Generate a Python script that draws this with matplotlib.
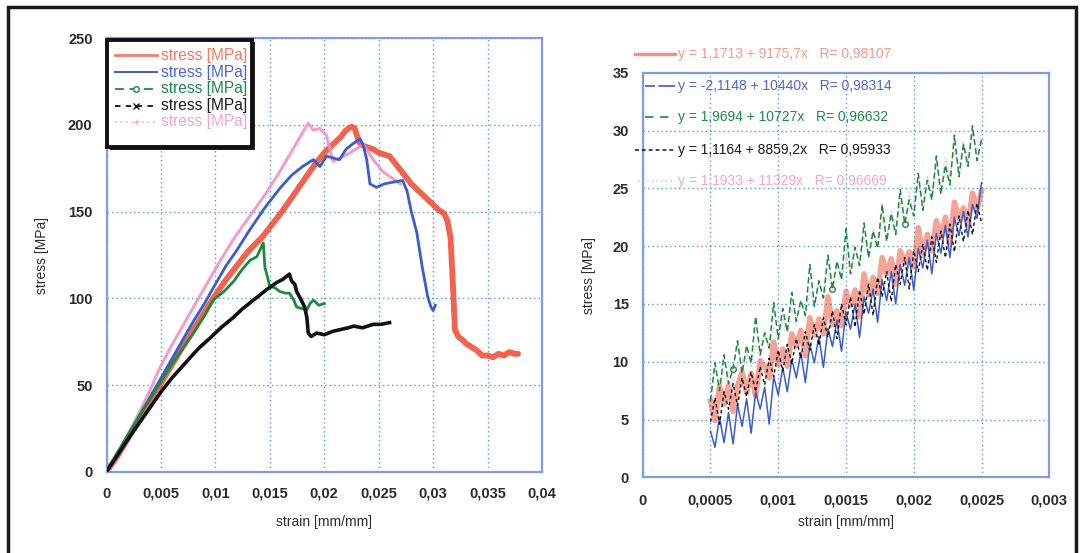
import matplotlib
matplotlib.use("Agg")
import matplotlib.pyplot as plt
import numpy as np
from matplotlib.lines import Line2D
from matplotlib.patches import Rectangle

plt.rcParams['font.family'] = ['Liberation Sans', 'DejaVu Sans']

# ---------------- data: left chart (full stress-strain curves) ----------------
red_x = [0, 0.001, 0.002, 0.003, 0.004, 0.005, 0.006, 0.007, 0.008, 0.009, 0.0098, 0.011, 0.012, 0.013,
         0.0144, 0.015, 0.016, 0.017, 0.018, 0.019, 0.020, 0.021, 0.0215, 0.022, 0.0225, 0.0228, 0.0232,
         0.0236, 0.024, 0.0245, 0.025, 0.0255, 0.026, 0.0265, 0.027, 0.0275, 0.028, 0.0285, 0.029, 0.0295,
         0.030, 0.0305, 0.031, 0.0313, 0.0316, 0.0318, 0.032, 0.0323, 0.0327, 0.033, 0.0335, 0.034, 0.0345,
         0.035, 0.0355, 0.036, 0.0365, 0.037, 0.0375, 0.0378]
red_y = [0, 9, 19.5, 30, 40.5, 51, 61.5, 72, 82, 92, 100, 111, 119, 127, 136, 141, 149, 158, 167, 176,
         184, 190, 193, 197, 199, 198, 190, 188, 187, 186, 184, 183, 182, 178, 174, 170, 166, 163, 160,
         157, 154, 151, 149, 145, 135, 110, 82, 78, 76, 74, 72, 70, 67, 67, 66, 68, 67, 69, 68, 68]

blue_x = [0, 0.001, 0.002, 0.003, 0.004, 0.005, 0.006, 0.007, 0.008, 0.009, 0.0098, 0.011, 0.012, 0.013,
          0.0144, 0.015, 0.016, 0.017, 0.018, 0.019, 0.0196, 0.0202, 0.0208, 0.0214, 0.022, 0.0226, 0.0233,
          0.0236, 0.0239, 0.0242, 0.0248, 0.0255, 0.0263, 0.0272, 0.0276, 0.028, 0.0285, 0.029, 0.0295,
          0.0298, 0.0300, 0.0302]
blue_y = [0, 10, 21, 32, 43, 54, 65, 76, 87, 97, 106, 119, 128, 138, 151, 156, 164, 171, 176, 180, 176,
          182, 181, 180, 186, 189, 192, 188, 180, 166, 164, 166, 167, 168, 162, 150, 138, 118, 101, 95, 93, 96]

green_x = [0, 0.001, 0.002, 0.003, 0.004, 0.005, 0.006, 0.007, 0.008, 0.009, 0.0098, 0.0108, 0.0117,
           0.0125, 0.0132, 0.0138, 0.0141, 0.0144, 0.01455, 0.0150, 0.0155, 0.0159, 0.0164, 0.0168, 0.0172,
           0.01746, 0.0180, 0.01838, 0.0187, 0.0190, 0.0195, 0.0200]
green_y = [0, 11, 21.5, 32, 42, 52, 62, 71, 80, 90, 99, 104, 110, 117, 122, 124, 128, 132, 118, 107, 106,
           104, 103, 103, 99, 95, 94, 93, 97, 99, 96, 97]

black_x = [0, 0.001, 0.002, 0.003, 0.004, 0.005, 0.006, 0.007, 0.008, 0.0086, 0.0095, 0.0105, 0.01165,
           0.0125, 0.0135, 0.0147, 0.0156, 0.0162, 0.0168, 0.0170, 0.0173, 0.01746, 0.0178, 0.0182, 0.0184,
           0.01853, 0.0188, 0.0193, 0.0200, 0.0208, 0.0215, 0.0222, 0.0227, 0.0235, 0.0245, 0.0252, 0.0260]
black_y = [0, 9.5, 19, 28, 37, 46, 54, 61, 68, 72, 77, 83, 89, 94, 99, 105, 109, 111, 114, 110, 108, 104,
           100, 95, 89, 80, 78, 80, 79, 81, 82, 83, 84, 83, 85, 85, 86]

pink_x = [0, 0.001, 0.002, 0.003, 0.004, 0.0049, 0.006, 0.007, 0.008, 0.009, 0.010, 0.01165, 0.013, 0.0147,
          0.016, 0.01777, 0.01853, 0.0190, 0.0196, 0.0202, 0.0208, 0.0215, 0.0221, 0.0229, 0.0236, 0.0245,
          0.0254, 0.0263, 0.0270]
pink_y = [0, 10, 22, 34, 47, 60, 73, 84, 95, 106, 117, 134, 146, 161, 174, 193, 201, 197, 198, 194, 179,
          181, 183, 186, 189, 180, 173, 169, 166]

left_xticks = [0, 0.005, 0.01, 0.015, 0.02, 0.025, 0.03, 0.035, 0.04]
left_xlabels = ['0', '0,005', '0,01', '0,015', '0,02', '0,025', '0,03', '0,035', '0,04']
left_yticks = [0, 50, 100, 150, 200, 250]
legend_label = 'stress [MPa]'

# ---------------- data: right chart (linear range) ----------------
rx_start, rx_end, rn = 0.0005, 0.0025, 61
r_red = [6.6, 4.9, 7.9, 6.3, 7.9, 5.7, 7.9, 9.1, 7.3, 9.0, 7.0, 10.1, 9.6, 8.6, 11.7, 9.7, 11.1, 9.6, 12.4,
         11.4, 12.7, 10.5, 13.8, 12.3, 13.7, 12.4, 15.6, 13.2, 14.4, 13.1, 16.1, 14.9, 16.2, 13.9, 17.6, 15.8,
         17.3, 15.9, 19.0, 17.6, 18.9, 16.7, 19.6, 18.5, 19.5, 18.2, 21.6, 19.2, 21.0, 19.6, 22.2, 20.8, 22.5,
         20.2, 23.8, 22.4, 23.3, 21.8, 24.6, 23.2, 24.8]
r_blue = [4.0, 2.6, 5.2, 3.0, 5.6, 2.9, 6.3, 4.4, 6.8, 3.8, 7.4, 5.9, 7.8, 4.6, 8.7, 7.1, 9.5, 7.4, 10.2, 8.6,
          10.8, 8.2, 11.5, 9.9, 12.2, 9.5, 12.9, 11.3, 13.6, 10.9, 14.3, 12.8, 15.0, 12.1, 15.6, 14.2, 16.3,
          13.4, 17.1, 15.3, 17.8, 15.0, 18.4, 16.6, 19.0, 16.2, 19.8, 18.1, 20.5, 17.6, 21.1, 19.4, 21.8, 19.0,
          22.5, 20.9, 23.0, 20.8, 23.6, 22.4, 25.5]
r_green = [6.6, 9.9, 7.5, 10.6, 8.1, 9.4, 11.8, 9.0, 11.4, 9.9, 13.9, 10.6, 12.5, 11.2, 15.1, 12.0, 14.6, 12.6,
           16.0, 13.5, 15.3, 14.0, 18.4, 14.8, 17.0, 15.5, 19.2, 16.3, 18.7, 17.1, 21.5, 17.6, 19.9, 18.3, 22.0,
           19.0, 21.3, 19.8, 23.6, 20.4, 22.8, 21.0, 24.9, 21.9, 24.0, 22.6, 26.3, 23.1, 25.7, 24.0, 27.8, 24.5,
           27.0, 25.3, 29.6, 26.0, 28.8, 26.9, 30.4, 27.4, 29.2]
r_black = [4.8, 6.9, 4.6, 7.4, 5.9, 8.1, 6.2, 8.6, 7.0, 9.1, 7.4, 9.6, 8.0, 10.3, 8.7, 11.0, 9.2, 11.5, 9.8,
           12.0, 10.3, 12.6, 11.0, 13.2, 11.4, 13.8, 12.1, 14.4, 12.0, 15.0, 13.2, 15.6, 13.0, 16.2, 14.1, 16.7,
           14.0, 17.3, 15.6, 17.8, 15.2, 18.4, 16.7, 19.0, 16.3, 19.6, 17.8, 20.2, 17.9, 20.8, 18.6, 21.3, 19.0,
           21.9, 19.5, 22.6, 20.4, 23.1, 21.0, 23.7, 22.0]
r_pink = [7.5, 6.3, 8.4, 7.2, 9.1, 8.0, 9.9, 8.8, 10.7, 9.5, 11.5, 10.2, 12.3, 11.0, 13.0, 11.8, 13.8, 12.5,
          14.6, 13.2, 15.4, 14.0, 16.1, 14.7, 16.9, 15.5, 17.7, 16.2, 18.4, 17.0, 19.2, 17.7, 20.0, 18.5, 20.8,
          19.2, 21.5, 20.0, 22.3, 20.7, 23.1, 21.5, 23.8, 22.2, 24.6, 23.0, 25.4, 23.7, 26.1, 24.5, 26.9, 25.2,
          27.6, 26.0, 28.4, 26.7, 29.1, 27.5, 29.8, 28.2, 29.9]
fit_labels = ['y = 1,1713 + 9175,7x   R= 0,98107',
              'y = -2,1148 + 10440x   R= 0,98314',
              'y = 1,9694 + 10727x   R= 0,96632',
              'y = 1,1164 + 8859,2x   R= 0,95933',
              'y = 1,1933 + 11329x   R= 0,96669']
right_xticks = [0, 0.0005, 0.001, 0.0015, 0.002, 0.0025, 0.003]
right_xlabels = ['0', '0,0005', '0,001', '0,0015', '0,002', '0,0025', '0,003']
right_yticks = [0, 5, 10, 15, 20, 25, 30, 35]

# ---------------- styling ----------------
C_RED = '#f0472f'
C_BLUE = '#3a5ccc'
C_GREEN = '#1a8a3c'
C_BLACK = '#111111'
C_PINK = '#f08cc4'
SPINE = '#7f9ce6'
GRID = '#4f9be0'
TXT = '#2b2b2b'

W, H = 1082, 553
fig = plt.figure(figsize=(W / 100, H / 100), dpi=100)
fig.patch.set_facecolor('white')

def fx(px):
    return px / W

def fy(py):
    return 1 - py / H

def style_axes(ax):
    for s in ax.spines.values():
        s.set_color(SPINE)
        s.set_linewidth(1.6)
    ax.grid(True, color=GRID, linestyle=(0, (1, 2.2)), linewidth=1.0)
    ax.set_axisbelow(True)
    ax.tick_params(length=0, labelsize=10.5, colors=TXT)
    for lab in ax.get_xticklabels() + ax.get_yticklabels():
        lab.set_fontweight('bold')

# ---------- left axes ----------
axL = fig.add_axes([fx(106.5), fy(471.7), fx(542) - fx(106.5), fy(38.3) - fy(471.7)])
axL.plot(red_x, red_y, color=C_RED, lw=4.2, alpha=0.85, solid_capstyle='round', zorder=2)
axL.plot(pink_x, pink_y, color=C_PINK, lw=2.2, alpha=0.85, zorder=3)
axL.plot(blue_x, blue_y, color=C_BLUE, lw=2.0, zorder=4)
axL.plot(green_x, green_y, color=C_GREEN, lw=2.0, zorder=5)
axL.plot(black_x, black_y, color=C_BLACK, lw=2.6, zorder=6)
axL.set_xlim(0, 0.04)
axL.set_ylim(0, 250)
axL.set_xticks(left_xticks)
axL.set_xticklabels(left_xlabels)
axL.set_yticks(left_yticks)
axL.tick_params(axis='x', pad=11)
axL.tick_params(axis='y', pad=10)
style_axes(axL)
axL.set_xlabel('strain [mm/mm]', fontsize=10, color=TXT, labelpad=10)
axL.set_ylabel('stress [MPa]', fontsize=10, color=TXT, labelpad=14)

# left legend (manual box)
fig.add_artist(Rectangle((fx(110), fy(150)), fx(255) - fx(110), fy(42) - fy(150), transform=fig.transFigure,
                         facecolor='#222222', edgecolor='none', zorder=9))
fig.add_artist(Rectangle((fx(107), fy(147)), fx(252) - fx(107), fy(40) - fy(147), transform=fig.transFigure,
                         facecolor='white', edgecolor='#111111', linewidth=2.8, zorder=10))
leg_rows = [55, 72, 89, 106, 122]
leg_colors = [C_RED, C_BLUE, C_GREEN, C_BLACK, C_PINK]
leg_text_colors = ['#f47a62', '#4a68d4', '#1e8a48', '#1a1a1a', '#f2a6cc']
leg_styles = [dict(ls='-', lw=2.0, alpha=0.7), dict(ls='-', lw=1.4),
              dict(ls=(0, (5, 3)), lw=1.3, marker='o', mfc='white', ms=4, markevery=[1]),
              dict(ls=(0, (3, 3)), lw=1.3, marker='x', ms=5, markevery=[1]),
              dict(ls=(0, (1, 2)), lw=1.3, marker='+', ms=5, markevery=[1], alpha=0.6)]
for py, c, tc, st in zip(leg_rows, leg_colors, leg_text_colors, leg_styles):
    fig.add_artist(Line2D([fx(115), fx(136), fx(157)], [fy(py)] * 3, color=c, transform=fig.transFigure,
                          zorder=11, **st))
    fig.text(fx(161), fy(py), legend_label, color=tc, fontsize=11.2, va='center', ha='left', zorder=11)

# ---------- right axes ----------
axR = fig.add_axes([fx(642.7), fy(477.3), fx(1049.3) - fx(642.7), fy(72.7) - fy(477.3)])
rx = np.linspace(rx_start, rx_end, rn)
axR.plot(rx, r_red, color=C_RED, lw=4.0, alpha=0.5, zorder=2)
axR.plot(rx, r_pink, color=C_PINK, lw=1.0, alpha=0.6, ls=(0, (1, 1.5)), zorder=3)
axR.plot(rx, r_green, color=C_GREEN, lw=1.1, ls=(0, (4, 2)), marker='o', ms=4, mfc='none',
         markevery=[5, 27, 43], zorder=4)
axR.plot(rx, r_blue, color=C_BLUE, lw=1.1, zorder=5)
axR.plot(rx, r_black, color=C_BLACK, lw=1.0, ls=(0, (2.5, 2)), zorder=6)
axR.set_xlim(0, 0.003)
axR.set_ylim(0, 35)
axR.set_xticks(right_xticks)
axR.set_xticklabels(right_xlabels)
axR.set_yticks(right_yticks)
axR.tick_params(axis='x', pad=12)
axR.tick_params(axis='y', pad=10)
style_axes(axR)
axR.set_xlabel('strain [mm/mm]', fontsize=10, color=TXT, labelpad=5)
axR.set_ylabel('stress [MPa]', fontsize=10, color=TXT, labelpad=12)

# right legend entries (fit equations)
fit_rows = [54, 86, 117, 150, 181]
fit_colors = ['#f59a86', '#4a68d4', '#1e8a48', '#1a1a1a', '#f2a6cc']
fit_handle = [dict(ls='-', lw=2.4, alpha=0.6, c=C_RED, x0=635),
              dict(ls=(0, (6, 2, 14, 0)), lw=1.2, c=C_BLUE, x0=645),
              dict(ls=(0, (5, 4)), lw=1.2, c=C_GREEN, x0=645),
              dict(ls=(0, (2.5, 2)), lw=1.1, c=C_BLACK, x0=635),
              dict(ls=(0, (1, 2)), lw=1.1, c=C_PINK, x0=638, alpha=0.7)]
for py, tc, lab, st in zip(fit_rows, fit_colors, fit_labels, fit_handle):
    st = dict(st)
    c = st.pop('c')
    x0 = st.pop('x0')
    fig.add_artist(Line2D([fx(x0), fx(675)], [fy(py), fy(py)], color=c, transform=fig.transFigure,
                          zorder=11, **st))
    fig.text(fx(678), fy(py), lab, color=tc, fontsize=10, va='center', ha='left', zorder=11)

# outer frame
fig.add_artist(Rectangle((fx(8), fy(575)), fx(1076) - fx(8), fy(7) - fy(575), transform=fig.transFigure,
                         facecolor='none', edgecolor='#1a1a1a', linewidth=2.5, zorder=20))

fig.savefig('out.png', dpi=100)
